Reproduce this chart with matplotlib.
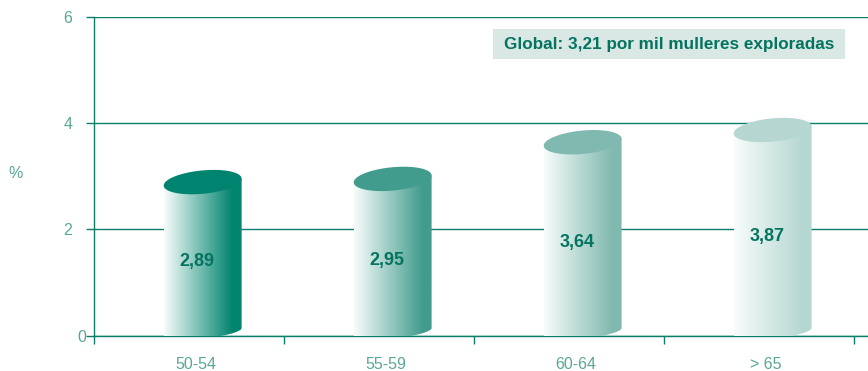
import numpy as np
import matplotlib
matplotlib.use("Agg")
import matplotlib.pyplot as plt
from matplotlib.patches import Polygon, Rectangle
from matplotlib.colors import LinearSegmentedColormap, to_rgb
from matplotlib.transforms import ScaledTranslation

# Detection rate by age group (per thousand screened women)
categories = ["50-54", "55-59", "60-64", "> 65"]
values = [2.89, 2.95, 3.64, 3.87]
value_labels = ["2,89", "2,95", "3,64", "3,87"]
bar_colors = ["#00846F", "#429C8D", "#80B9AF", "#B6D7D1"]
y_ticks = [0, 2, 4, 6]
global_note = "Global: 3,21 por mil mulleres exploradas"

LINE = "#0B7E6B"
TICK_TXT = "#5AA697"
VAL_TXT = "#04735F"

plt.rcParams["font.family"] = ["Liberation Sans", "DejaVu Sans"]

fig = plt.figure(figsize=(8.68, 3.71), dpi=100)
ax = fig.add_axes([94 / 868, 35.3 / 371, 774 / 868, 318.9 / 371])

x0_lim, x1_lim = -0.537, 3.537
ax.set_xlim(x0_lim, x1_lim)
ax.set_ylim(0, 6)

# cylinder geometry (data units)
half_w = 0.205
b_top = 0.22
b_bot = 0.13
shear = 0.065
bot_c = 0.08
x_shift = 0.035

t_front = np.linspace(np.pi, 2 * np.pi, 80)   # lower half of an ellipse, left to right
t_full = np.linspace(0, 2 * np.pi, 160)

for i, (v, col) in enumerate(zip(values, bar_colors)):
    cx = i + x_shift
    # body outline: bottom front arc, right edge up, straight back to left at the top
    bx = cx + half_w * np.cos(t_front)
    by = bot_c + b_bot * np.sin(t_front) + shear * np.cos(t_front)
    xs = list(bx) + [cx + half_w, cx - half_w]
    ys = list(by) + [v + shear, v - shear]
    body = Polygon(np.column_stack([xs, ys]), closed=True, facecolor="none",
                   edgecolor="none", zorder=3)
    ax.add_patch(body)

    c = to_rgb(col)
    cmap = LinearSegmentedColormap.from_list(
        f"cyl{i}", [(0.0, (0.97, 0.99, 0.985)), (0.88, c), (1.0, c)])
    grad = np.linspace(0, 1, 256).reshape(1, -1)
    im = ax.imshow(grad, cmap=cmap, aspect="auto", interpolation="bilinear",
                   extent=[cx - half_w, cx + half_w, 0, v + 0.3], zorder=3)
    im.set_clip_path(body)

    # top cap
    ex = cx + half_w * np.cos(t_full)
    ey = v + b_top * np.sin(t_full) + shear * np.cos(t_full)
    ax.add_patch(Polygon(np.column_stack([ex, ey]), closed=True,
                         facecolor=col, edgecolor="none", zorder=4))

    ax.text(cx - 0.03, v * 0.48, value_labels[i], ha="center", va="center",
            fontsize=13, fontweight="bold", color=VAL_TXT, zorder=5)

ax.set_xlim(x0_lim, x1_lim)
ax.set_ylim(0, 6)

# gridlines and axes
ax.set_yticks(y_ticks)
ax.set_yticklabels([str(t) for t in y_ticks])
ax.yaxis.grid(True, color=LINE, linewidth=1.0, zorder=0)
ax.set_axisbelow(True)
for s in ["top", "right"]:
    ax.spines[s].set_visible(False)
for s in ["left", "bottom"]:
    ax.spines[s].set_color(LINE)
    ax.spines[s].set_linewidth(1.0)

ax.tick_params(axis="y", direction="out", length=5.5, width=1.0, color=LINE,
               labelcolor=TICK_TXT, labelsize=11.5, pad=10)
ax.set_xticks(range(len(categories)))
ax.set_xticklabels(categories)
ax.tick_params(axis="x", which="major", length=0, labelcolor=TICK_TXT,
               labelsize=11.5, pad=15)
ax.set_xticks([k + x0_lim for k in range(len(categories) + 1)], minor=True)
ax.tick_params(axis="x", which="minor", direction="out", length=5.5, width=1.0,
               color=LINE)

# the zero label sits closer to the axis
zero_lbl = ax.yaxis.get_major_ticks()[0].label1
zero_lbl.set_transform(zero_lbl.get_transform() +
                       ScaledTranslation(14 / 100, 0, fig.dpi_scale_trans))

fig.text(16 / 868, 1 - 173 / 371, "%", ha="center", va="center",
         fontsize=11.5, color=TICK_TXT)

# overall rate box
fig.patches.append(Rectangle(
    (493 / 868, 1 - 59 / 371), (845 - 493) / 868, 30 / 371,
    transform=fig.transFigure, facecolor="#D9E8E5", edgecolor="none", zorder=5))
fig.text(669 / 868, 1 - 44.5 / 371, global_note, ha="center", va="center",
         fontsize=12.3, fontweight="bold", color=VAL_TXT, zorder=6)

fig.savefig("out.png", dpi=100)
